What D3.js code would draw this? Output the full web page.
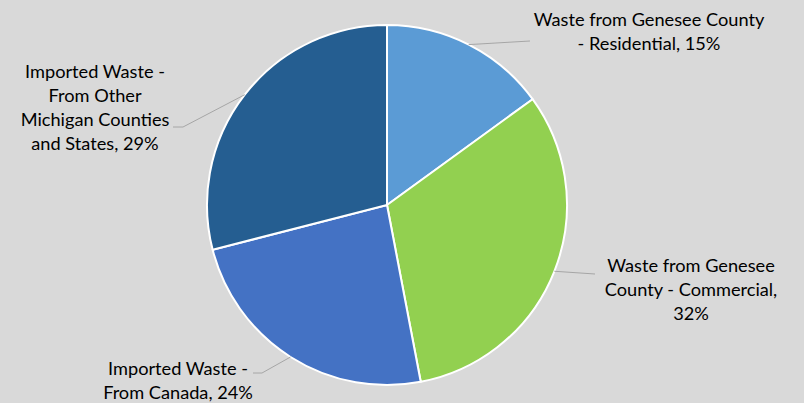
<!DOCTYPE html>
<html><head><meta charset="utf-8">
<script src="https://cdn.jsdelivr.net/npm/d3@7"></script>
<style>html,body{margin:0;padding:0;background:#D9D9D9;}svg{display:block;}</style>
</head><body>
<script>
const categories = ["Waste from Genesee County - Residential","Waste from Genesee County - Commercial","Imported Waste - From Canada","Imported Waste - From Other Michigan Counties and States"];
const values = [15, 32, 24, 29];
const colors = ["#5B9BD5","#92D050","#4472C4","#255E91"];
const labelLines = [
  ["Waste from Genesee County","- Residential, 15%"],
  ["Waste from Genesee","County - Commercial,","32%"],
  ["Imported Waste -","From Canada, 24%"],
  ["Imported Waste -","From Other","Michigan Counties","and States, 29%"]
];
// label layout: text center x, first baseline y, leader end point, elbow
const labelLayout = [
  {tx:649, ty:26, pts:[[530,41]]},
  {tx:691, ty:272, pts:[[595,274]]},
  {tx:178, ty:375, pts:[[262,373],[253,373]]},
  {tx:95, ty:78, pts:[[183,127],[173,127]]}
];
const W=804,H=403,cx=387,cy=205,R=180;
const svg=d3.select("body").append("svg").attr("width",W).attr("height",H);
svg.append("rect").attr("width",W).attr("height",H).attr("fill","#D9D9D9");
const pie=d3.pie().sort(null).value(d=>d)(values);
const arc=d3.arc().innerRadius(0).outerRadius(R);
const g=svg.append("g").attr("transform",`translate(${cx},${cy})`);
g.selectAll("path").data(pie).join("path").attr("d",arc)
  .attr("fill",(d,i)=>colors[i]).attr("stroke","#fff").attr("stroke-width",2).attr("stroke-linejoin","round");
pie.forEach((d,i)=>{
  const a=(d.startAngle+d.endAngle)/2;
  const p0=[cx+R*Math.sin(a), cy-R*Math.cos(a)];
  const pts=[p0,...labelLayout[i].pts];
  svg.append("path").attr("d",d3.line()(pts)).attr("fill","none").attr("stroke","#A6A6A6").attr("stroke-width",1);
  const t=svg.append("text").attr("font-family","Lato, 'Open Sans', sans-serif").attr("font-size",18.2)
    .attr("fill","#000").attr("text-anchor","middle");
  labelLines[i].forEach((ln,j)=>{
    t.append("tspan").attr("x",labelLayout[i].tx).attr("y",labelLayout[i].ty+j*24).text(ln);
  });
});
</script>
</body></html>
